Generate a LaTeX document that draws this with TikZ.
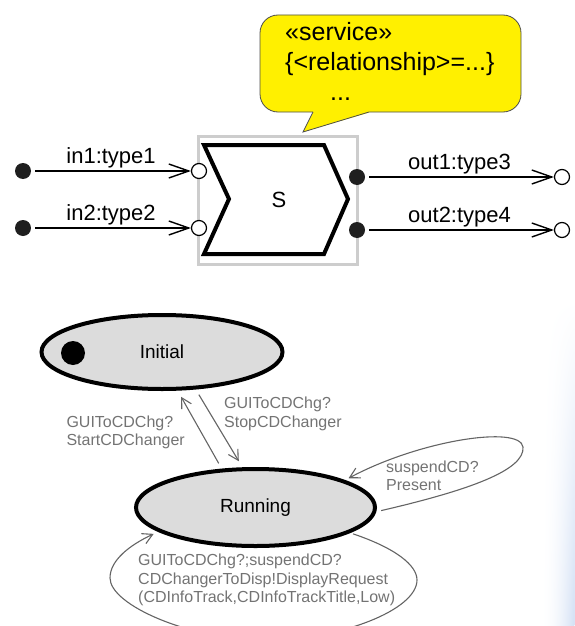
\documentclass[tikz,border=0pt]{standalone}
\usepackage{fontspec}
\setmainfont{Liberation Sans}
\usetikzlibrary{shapes.geometric, arrows.meta, positioning}

\definecolor{noteyellow}{RGB}{255,240,0}
\definecolor{stategray}{RGB}{220,220,220}
\definecolor{transgray}{RGB}{100,100,100}
\definecolor{labelgray}{RGB}{115,115,115}
\definecolor{framegray}{RGB}{205,205,205}
\definecolor{slideblue}{RGB}{214,226,245}

\begin{document}
\begin{tikzpicture}[
    x=1pt, y=-1pt,
    portin/.style={circle, draw=black, line width=1.2pt, fill=white, minimum size=15pt, inner sep=0pt},
    portout/.style={circle, fill=black!88, minimum size=16pt, inner sep=0pt},
    flow/.style={line width=1.8pt, -{Straight Barb[length=20pt, width=14pt, line width=1.4pt]}, shorten <=4pt},
    portlabel/.style={font=\fontsize{22}{26}\selectfont, inner sep=2pt},
    state/.style={ellipse, draw=black, line width=4pt, fill=stategray, inner sep=0pt, font=\fontsize{19}{23}\selectfont},
    trans/.style={draw=transgray, line width=1.1pt, -{Straight Barb[length=10pt, width=11pt]}, shorten <=6pt, shorten >=7pt},
    translabel/.style={text=labelgray, align=left, inner sep=0pt, font=\fontsize{16}{18.5}\selectfont}
]
\useasboundingbox (0,0) rectangle (574,626);

% slide background
\foreach \i in {0,...,33} {
    \pgfmathsetmacro\p{100*(\i/33)^2}
    \shade[top color=white, bottom color=slideblue!\p!white] (540+\i,300) rectangle (541.3+\i,626);
}

% Service component
\node (svc) [draw=framegray, line width=3pt, minimum width=159pt, minimum height=128pt] at (277.5,200.5) {};
\draw [line width=4pt] (204,145) -- (324,145) -- (348,199) -- (324,254) -- (204,254) -- (229,199) -- cycle;
\node (s) [font=\fontsize{22}{26}\selectfont] at (279,200) {S};

% Callout
\node (note) [draw=black!70, line width=0.8pt, fill=noteyellow, rounded corners=18pt, minimum width=261pt, minimum height=97pt] at (390.5,63.5) {};
\fill [noteyellow] (313,112.6) -- (303,132) -- (369,112.6) -- (369,110) -- (313,110) -- cycle;
\draw [black!70, line width=0.8pt] (313,112) -- (303,132) -- (369,112);
\node (notetext) [anchor=north west, inner sep=0pt, align=left, font=\fontsize{25}{30}\selectfont] at (285,19)
    {\strut«service»\\\{<relationship>=...\}\\\hspace*{45pt}...};

% Ports
\node (in1) [portin] at (199,171) {};
\node (in2) [portin] at (199,228) {};
\node (src1) [portout] at (23,171) {};
\node (src2) [portout] at (23,228) {};
\node (out1) [portout] at (357,177) {};
\node (out2) [portout] at (357,230) {};
\node (dst1) [portin] at (562,177) {};
\node (dst2) [portin] at (562,230) {};

\draw [flow] (src1) -- node[portlabel, above] {in1:type1} (in1);
\draw [flow] (src2) -- node[portlabel, above] {in2:type2} (in2);
\draw [flow] (out1) -- node[portlabel, above] {out1:type3} (dst1);
\draw [flow] (out2) -- node[portlabel, above] {out2:type4} (dst2);

% States
\node (initial) [state, minimum width=241pt, minimum height=74pt] at (162,352) {Initial};
\node (initdot) [circle, fill=black, minimum size=24pt, inner sep=0pt] at (73,353) {};
\node (running) [state, minimum width=239pt, minimum height=77pt] at (255.5,507.5) {Running};

% Transitions
\draw [trans] (running.131) -- (initial.292);
\draw [trans] (initial.312) -- (running.108);
\draw [trans, shorten <=5pt, shorten >=4pt] (running.-2) .. controls (470,490) and (525,470) .. (523,447)
    .. controls (520,425) and (420,440) .. (running.17);
\draw [trans, shorten <=3pt, shorten >=5pt] (running.-15) .. controls (395,548) and (417,565) .. (417,580)
    .. controls (417,610) and (340,640) .. (265,640)
    .. controls (190,640) and (110,605) .. (110,578)
    .. controls (110,560) and (130,545) .. (running.194);

% Transition labels
\node (startlbl) [translabel, anchor=east] at (185,432.5) {GUIToCDChg?\\StartCDChanger};
\node (stoplbl) [translabel, anchor=west] at (224,414) {GUIToCDChg?\\StopCDChanger};
\node (suspendlbl) [translabel, anchor=west] at (386,476) {suspendCD?\\Present};
\node (displbl) [translabel, anchor=west] at (138,580) {GUIToCDChg?;suspendCD?\\CDChangerToDisp!DisplayRequest\\(CDInfoTrack,CDInfoTrackTitle,Low)};

\end{tikzpicture}
\end{document}
